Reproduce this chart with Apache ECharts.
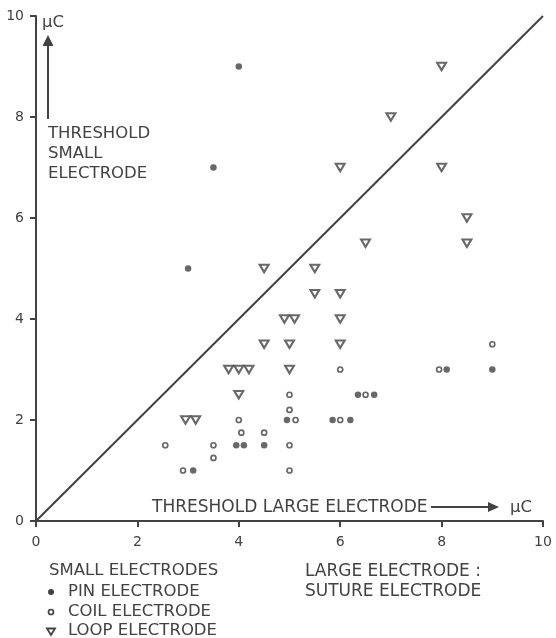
<!DOCTYPE html>
<html>
<head>
<meta charset="utf-8">
<script src="https://cdn.jsdelivr.net/npm/echarts@6/dist/echarts.min.js"></script>
<style>
  html, body { margin: 0; padding: 0; background: #ffffff; }
  #chart { width: 556px; height: 638px; }
</style>
</head>
<body>
<div id="chart"></div>
<script>
// Stimulation thresholds (µC): large suture electrode (x) vs small electrode (y)
const pinElectrode = [
  [4, 9], [3.5, 7], [3, 5], [9, 3], [8.1, 3], [6.35, 2.5], [6.67, 2.5],
  [4.95, 2], [5.85, 2], [6.2, 2], [3.95, 1.5], [4.1, 1.5], [4.5, 1.5], [3.1, 1]
];
const coilElectrode = [
  [9, 3.5], [6, 3], [7.95, 3], [6.5, 2.5], [5, 2.5], [5, 2.2], [5.12, 2],
  [6, 2], [5, 1.5], [5, 1], [4, 2], [4.05, 1.75], [4.5, 1.75], [2.55, 1.5],
  [3.5, 1.5], [3.5, 1.25], [2.9, 1]
];
const loopElectrode = [
  [8, 9], [7, 8], [6, 7], [8, 7], [8.5, 6], [8.5, 5.5], [6.5, 5.5], [4.5, 5],
  [5.5, 5], [5.5, 4.5], [6, 4.5], [4.9, 4], [5.1, 4], [6, 4], [4.5, 3.5],
  [5, 3.5], [6, 3.5], [5, 3], [3.8, 3], [4, 3], [4.2, 3], [4, 2.5],
  [2.95, 2], [3.15, 2]
];
// Line of equal thresholds
const equalThreshold = [[0, 0], [10, 10]];
const axisTicks = [0, 2, 4, 6, 8, 10];

const ink = '#424242';
const font = '"DejaVu Sans", sans-serif';

const chart = echarts.init(document.getElementById('chart'), null, { renderer: 'canvas' });

function label(text, x, y, size, align) {
  return {
    type: 'text', x: x, y: y, silent: true,
    style: {
      text: text, fill: ink, font: (size || 16) + 'px ' + font,
      textAlign: align || 'left', textVerticalAlign: 'middle',
      align: align || 'left', verticalAlign: 'middle'
    }
  };
}

const option = {
  backgroundColor: '#ffffff',
  animation: false,
  grid: { left: 36, top: 16, width: 507, height: 505, containLabel: false },
  xAxis: {
    type: 'value', min: axisTicks[0], max: axisTicks[axisTicks.length - 1], interval: 2,
    axisLine: { show: true, onZero: false, lineStyle: { color: ink, width: 2 } },
    axisTick: { show: true, inside: false, length: 6, lineStyle: { color: ink, width: 2 } },
    axisLabel: { color: ink, fontSize: 14, fontFamily: font, margin: 14 },
    splitLine: { show: false }
  },
  yAxis: {
    type: 'value', min: axisTicks[0], max: axisTicks[axisTicks.length - 1], interval: 2,
    axisLine: { show: true, onZero: false, lineStyle: { color: ink, width: 2 } },
    axisTick: { show: true, inside: false, length: 6, lineStyle: { color: ink, width: 2 } },
    axisLabel: { color: ink, fontSize: 14, fontFamily: font, margin: 12 },
    splitLine: { show: false }
  },
  series: [
    {
      name: 'EQUAL THRESHOLD', type: 'line', data: equalThreshold,
      symbol: 'none', lineStyle: { color: ink, width: 2 }, silent: true, z: 1
    },
    {
      name: 'PIN ELECTRODE', type: 'scatter', data: pinElectrode,
      symbol: 'circle', symbolSize: 6.5,
      itemStyle: { color: ink }, z: 3
    },
    {
      name: 'COIL ELECTRODE', type: 'scatter', data: coilElectrode,
      symbol: 'circle', symbolSize: 5,
      itemStyle: { color: '#ffffff', borderColor: ink, borderWidth: 1.7 }, z: 3
    },
    {
      name: 'LOOP ELECTRODE', type: 'scatter', data: loopElectrode,
      symbol: 'triangle', symbolRotate: 180, symbolSize: [9, 7.5],
      itemStyle: { color: '#ffffff', borderColor: ink, borderWidth: 2 }, z: 3
    }
  ],
  graphic: [
    // vertical axis annotation
    label('\u03BCC', 42, 23, 16.5),
    { type: 'line', silent: true, shape: { x1: 48, y1: 44, x2: 48, y2: 119 },
      style: { stroke: ink, lineWidth: 2 } },
    { type: 'polygon', silent: true, shape: { points: [[48, 35], [42.5, 46], [53.5, 46]] },
      style: { fill: ink } },
    label('THRESHOLD', 48, 134, 16.5),
    label('SMALL', 48, 154, 16.5),
    label('ELECTRODE', 48, 174, 16.5),
    // horizontal axis annotation
    label('THRESHOLD LARGE ELECTRODE', 152, 508, 17),
    { type: 'line', silent: true, shape: { x1: 431, y1: 507, x2: 490, y2: 507 },
      style: { stroke: ink, lineWidth: 2 } },
    { type: 'polygon', silent: true, shape: { points: [[499, 507], [488, 502], [488, 512]] },
      style: { fill: ink } },
    label('\u03BCC', 510, 508, 16.5),
    // key
    label('SMALL ELECTRODES', 49, 571, 16.5),
    { type: 'circle', silent: true, shape: { cx: 51, cy: 592, r: 3 }, style: { fill: ink } },
    label('PIN ELECTRODE', 68, 592, 16.5),
    { type: 'circle', silent: true, shape: { cx: 51, cy: 612, r: 2.5 },
      style: { fill: '#ffffff', stroke: ink, lineWidth: 1.7 } },
    label('COIL ELECTRODE', 68, 612, 16.5),
    { type: 'polygon', silent: true, shape: { points: [[47, 628.5], [55, 628.5], [51, 635]] },
      style: { fill: '#ffffff', stroke: ink, lineWidth: 1.8 } },
    label('LOOP ELECTRODE', 68, 631, 16.5),
    label('LARGE ELECTRODE :', 305, 572, 17),
    label('SUTURE ELECTRODE', 305, 592, 17)
  ]
};

chart.setOption(option);
</script>
</body>
</html>
